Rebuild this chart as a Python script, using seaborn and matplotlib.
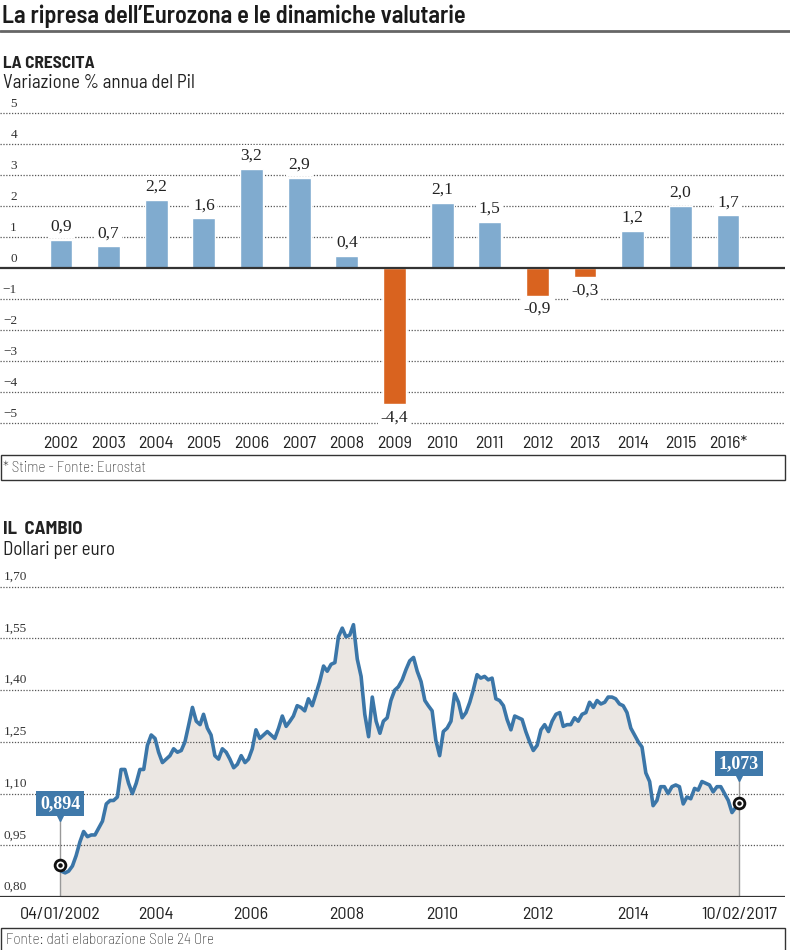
import numpy as np
import pandas as pd
import matplotlib
matplotlib.use("Agg")
import matplotlib.pyplot as plt
import matplotlib.dates as mdates
import matplotlib.transforms as mtrans
from matplotlib.patches import Rectangle
from matplotlib.lines import Line2D
import seaborn as sns

# ---------------- data ----------------
years = ["2002", "2003", "2004", "2005", "2006", "2007", "2008", "2009",
         "2010", "2011", "2012", "2013", "2014", "2015", "2016*"]
growth = [0.9, 0.7, 2.2, 1.6, 3.2, 2.9, 0.4, -4.4, 2.1, 1.5, -0.9, -0.3, 1.2, 2.0, 1.7]
growth_ticks = [5, 4, 3, 2, 1, 0, -1, -2, -3, -4, -5]

fx_start = ("2002-01-04", 0.894)
fx_end = ("2017-02-10", 1.073)
fx_2002 = [0.875, 0.870, 0.875, 0.890, 0.920, 0.960, 0.990, 0.975, 0.980, 0.980, 1.000, 1.020]
fx_2003 = [1.070, 1.080, 1.080, 1.090, 1.170, 1.170, 1.130, 1.100, 1.130, 1.170, 1.170, 1.240]
fx_2004 = [1.270, 1.260, 1.220, 1.190, 1.200, 1.210, 1.230, 1.220, 1.225, 1.250, 1.300, 1.350]
fx_2005 = [1.310, 1.300, 1.330, 1.290, 1.270, 1.210, 1.200, 1.230, 1.220, 1.200, 1.175, 1.185]
fx_2006 = [1.210, 1.190, 1.200, 1.230, 1.285, 1.260, 1.270, 1.280, 1.270, 1.260, 1.290, 1.325]
fx_2007 = [1.295, 1.310, 1.325, 1.355, 1.350, 1.340, 1.375, 1.355, 1.390, 1.425, 1.470, 1.455]
fx_2008 = [1.475, 1.480, 1.555, 1.580, 1.555, 1.560, 1.590, 1.490, 1.440, 1.330, 1.265, 1.380]
fx_2009 = [1.310, 1.275, 1.310, 1.320, 1.370, 1.400, 1.410, 1.430, 1.460, 1.485, 1.495, 1.455]
fx_2010 = [1.425, 1.370, 1.355, 1.340, 1.255, 1.210, 1.280, 1.290, 1.310, 1.390, 1.365, 1.320]
fx_2011 = [1.335, 1.365, 1.400, 1.445, 1.435, 1.440, 1.430, 1.435, 1.375, 1.370, 1.355, 1.315]
fx_2012 = [1.285, 1.325, 1.320, 1.315, 1.280, 1.250, 1.225, 1.240, 1.285, 1.300, 1.280, 1.310]
fx_2013 = [1.330, 1.335, 1.295, 1.300, 1.300, 1.320, 1.310, 1.330, 1.335, 1.365, 1.350, 1.370]
fx_2014 = [1.360, 1.365, 1.380, 1.380, 1.375, 1.360, 1.355, 1.335, 1.290, 1.270, 1.250, 1.235]
fx_2015 = [1.160, 1.135, 1.065, 1.080, 1.120, 1.120, 1.100, 1.120, 1.125, 1.120, 1.070, 1.090]
fx_2016 = [1.085, 1.115, 1.110, 1.135, 1.130, 1.125, 1.105, 1.120, 1.120, 1.100, 1.080, 1.045]
fx_2017 = [1.060]

x_tick_labels = ["04/01/2002", "2004", "2006", "2008", "2010", "2012", "2014", "10/02/2017"]

# ---------------- style ----------------
sns.set_theme(style="white")
SANS = ["Barlow Semi Condensed", "DejaVu Sans"]
SERIF = ["Liberation Serif", "DejaVu Serif"]
plt.rcParams["font.family"] = SANS

BLUE_BAR = "#80abcf"
ORANGE = "#d9631f"
LINE = "#3b76a8"
FILL = "#ebe7e3"
BOX = "#3f79aa"
DARK = "#222222"
GRID = "#555555"

W, H = 790, 950
fig = plt.figure(figsize=(W / 100, H / 100), dpi=100)
fig.patch.set_facecolor("white")
renderer = fig.canvas.get_renderer()


def fy(py):
    return 1 - py / H


def fit(t, target_px):
    w = t.get_window_extent(renderer).width
    t.set_fontsize(t.get_fontsize() * target_px / w)
    return t


# ---------------- header ----------------
fit(fig.text(2 / W, fy(16), "La ripresa dell\u2019Eurozona e le dinamiche valutarie",
             fontsize=17, fontweight="semibold", color="#1a1a1a",
             va="center", ha="left"), 466)
fig.add_artist(Line2D([0, 1], [fy(31), fy(31)], transform=fig.transFigure,
                      color="#666666", lw=2))
fit(fig.text(3 / W, fy(63), "LA CRESCITA", fontsize=11.5, fontweight="bold",
             color=DARK, va="center"), 92)
fit(fig.text(3 / W, fy(83), "Variazione % annua del Pil", fontsize=12.5,
             color=DARK, va="center"), 192)

# ---------------- bar chart ----------------
zero_px, ppu = 268, 31.0
top_px, bot_px = 105, 430
ax1 = fig.add_axes([0, fy(bot_px), 785 / W, (bot_px - top_px) / H])
df = pd.DataFrame({"anno": years, "pil": growth})
df["segno"] = np.where(df["pil"] >= 0, "pos", "neg")
sns.barplot(data=df, x="anno", y="pil", hue="segno", order=years,
            palette={"pos": BLUE_BAR, "neg": ORANGE}, width=0.48,
            dodge=False, legend=False, saturation=1, ax=ax1, zorder=3)
ax1.set_ylim(-(bot_px - zero_px) / ppu, (zero_px - top_px) / ppu)
step = 47.64
ax1.set_xlim(-61 / step, (785 - 61) / step)
for v in growth_ticks:
    if v == 0:
        ax1.axhline(v, color="#333333", lw=1.6, zorder=4)
    else:
        ax1.axhline(v, color=GRID, lw=0.9, ls=(0, (1, 1.3)), zorder=1)
blend1 = mtrans.blended_transform_factory(ax1.transAxes, ax1.transData)
lab_tr = mtrans.offset_copy(blend1, fig=fig, y=3, units="dots")
for v in growth_ticks:
    txt = str(v).replace("-", "\u2212")
    ax1.text(17 / 785, v, txt, transform=lab_tr, ha="right", va="bottom",
             fontsize=9.5, family=SERIF, color="#333333")
up_tr = mtrans.offset_copy(ax1.transData, fig=fig, y=5, units="dots")
dn_tr = mtrans.offset_copy(ax1.transData, fig=fig, y=-5, units="dots")
for i, v in enumerate(growth):
    s = f"{v:.1f}".replace(".", ",")
    if v >= 0:
        ax1.text(i, v, s, transform=up_tr, ha="center", va="bottom", fontsize=12.5,
                 family=SERIF, color=DARK, zorder=5,
                 bbox=dict(boxstyle="square,pad=0.15", fc="white", ec="none"))
    else:
        ax1.text(i, v, s, transform=dn_tr, ha="center", va="top", fontsize=12.5,
                 family=SERIF, color=DARK, zorder=5,
                 bbox=dict(boxstyle="square,pad=0.15", fc="white", ec="none"))
ax1.set_xlabel("")
ax1.set_ylabel("")
ax1.set_yticks([])
ax1.tick_params(axis="x", length=0, pad=4, labelsize=13, labelcolor=DARK)
for sp in ax1.spines.values():
    sp.set_visible(False)
ax1.patch.set_alpha(0)

# footnote box 1
fig.add_artist(Rectangle((0.5 / W, fy(480)), 784 / W, 25 / H, transform=fig.transFigure,
                         fill=False, ec="#333333", lw=1))
fit(fig.text(3 / W, fy(467.5), "* Stime - Fonte: Eurostat", fontsize=9,
             fontweight="light", color="#222222", va="center"), 143)

# ---------------- line chart ----------------
fit(fig.text(3 / W, fy(530), "IL  CAMBIO", fontsize=11.5, fontweight="bold",
             color=DARK, va="center"), 80)
fit(fig.text(3 / W, fy(550), "Dollari per euro", fontsize=12.5, color=DARK,
             va="center"), 112)

fx_values = (fx_2002 + fx_2003 + fx_2004 + fx_2005 + fx_2006 + fx_2007 + fx_2008
             + fx_2009 + fx_2010 + fx_2011 + fx_2012 + fx_2013 + fx_2014 + fx_2015
             + fx_2016 + fx_2017)
mid_months = pd.date_range("2002-01-01", periods=len(fx_values), freq="MS") + pd.Timedelta(days=14)
fx_dates = pd.DatetimeIndex([pd.Timestamp(fx_start[0])] + list(mid_months) + [pd.Timestamp(fx_end[0])])
fx_all = [fx_start[1]] + fx_values + [fx_end[1]]
fx = pd.DataFrame({"data": fx_dates, "cambio": fx_all})

y0_px, ytop_px = 897, 580
ppu2 = 344.7
ax2 = fig.add_axes([0, fy(y0_px), 785 / W, (y0_px - ytop_px) / H])
d0 = mdates.date2num(pd.Timestamp(fx_start[0]))
d1 = mdates.date2num(pd.Timestamp(fx_end[0]))
ppd = (739 - 60) / (d1 - d0)
ax2.set_xlim(d0 - 60 / ppd, d1 + (785 - 739) / ppd)
ax2.set_ylim(0.80, 0.80 + (y0_px - ytop_px) / ppu2)

ax2.fill_between(mdates.date2num(fx["data"]), fx["cambio"], 0.80, color=FILL, lw=0, zorder=1)
for v in [0.95, 1.10, 1.25, 1.40, 1.55, 1.70]:
    ax2.axhline(v, color=GRID, lw=0.9, ls=(0, (1, 1.3)), zorder=2)
sns.lineplot(data=fx, x="data", y="cambio", color=LINE, lw=2.6, ax=ax2, zorder=4)
ax2.axhline(0.80, color="#333333", lw=1.6, zorder=5)

blend2 = mtrans.blended_transform_factory(ax2.transAxes, ax2.transData)
lab_tr2 = mtrans.offset_copy(blend2, fig=fig, y=4, units="dots")
for v in [0.80, 0.95, 1.10, 1.25, 1.40, 1.55, 1.70]:
    ax2.text(4 / 785, v, f"{v:.2f}".replace(".", ","), transform=lab_tr2,
             ha="left", va="bottom", fontsize=9.5, family=SERIF, color="#333333")

# callouts
for (dstr, val), off in [(fx_start, 61), (fx_end, 39)]:
    dn = mdates.date2num(pd.Timestamp(dstr))
    box_bottom = val + (off - 12) / ppu2
    ax2.plot([dn, dn], [0.80, box_bottom], color="#999999", lw=1, zorder=3)
    ax2.scatter([dn], [val], s=60, facecolor="white", edgecolor="#111111",
                lw=2, zorder=6)
    ax2.scatter([dn], [val], s=5, color="#111111", zorder=7)
    ax2.annotate(f"{val:.3f}".replace(".", ","), xy=(dn, val), xytext=(0, off),
                 textcoords="offset pixels", ha="center", va="center",
                 fontsize=13, fontweight="bold", family=SERIF, color="white",
                 zorder=8,
                 bbox=dict(boxstyle="square,pad=0.22", fc=BOX, ec="none"))
    tri_tr = mtrans.offset_copy(ax2.transData, fig=fig, y=off - 14, units="dots")
    ax2.plot([dn], [val], marker="v", ms=5, color=BOX, transform=tri_tr, zorder=8)

tick_px = [60, 156, 251, 347, 442, 538, 633, 739]
tick_pos = [d0 + (p - 60) / ppd for p in tick_px]
ax2.set_xticks(tick_pos)
ax2.set_xticklabels(x_tick_labels)
ax2.set_yticks([])
ax2.set_xlabel("")
ax2.set_ylabel("")
ax2.tick_params(axis="x", length=0, pad=7, labelsize=13, labelcolor=DARK)
for sp in ax2.spines.values():
    sp.set_visible(False)
ax2.patch.set_alpha(0)

# footnote box 2
fig.add_artist(Rectangle((0.5 / W, fy(952)), 784 / W, 24 / H, transform=fig.transFigure,
                         fill=False, ec="#333333", lw=1, clip_on=False))
fit(fig.text(6 / W, fy(940), "Fonte: dati elaborazione Sole 24 Ore", fontsize=10,
             fontweight="light", color="#222222", va="center"), 208)

fig.savefig("out.png", dpi=100)
